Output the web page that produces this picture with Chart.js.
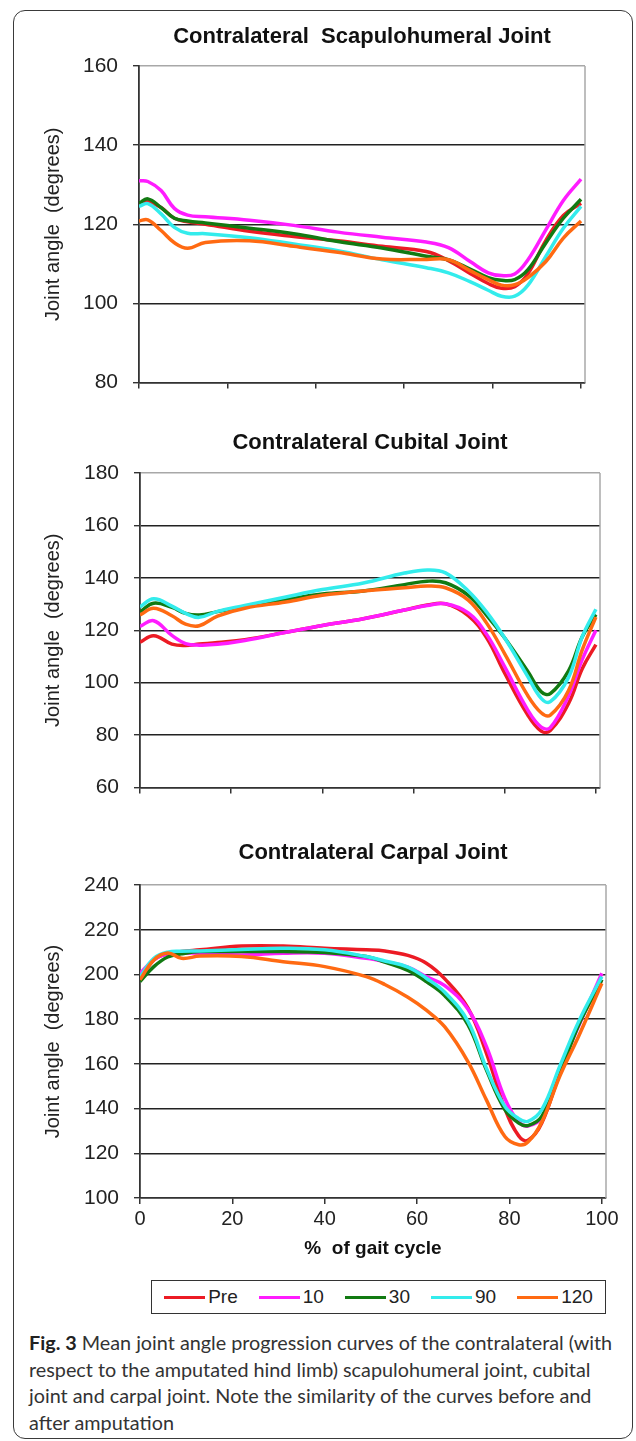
<!DOCTYPE html>
<html>
<head>
<meta charset="utf-8">
<script src="https://cdn.jsdelivr.net/npm/chart.js"></script>
<style>
  html, body { margin: 0; padding: 0; background: #fff; }
  body { position: relative; width: 636px; height: 1441px; overflow: hidden; font-family: "Liberation Sans", Arial, sans-serif; }
  .frame { position: absolute; left: 13px; top: 10px; width: 618px; height: 1427px; border: 1.5px solid #3a3a3a; border-radius: 12px; }
  canvas { position: absolute; left: 0; }
  #legend { position: absolute; left: 151px; top: 1280px; width: 453px; height: 32px; border: 1.5px solid #333;
            display: flex; align-items: center; justify-content: center; gap: 21px; font-size: 19px; color: #222; }
  #legend .item { display: flex; align-items: center; }
  #legend .swatch { display: inline-block; width: 41px; height: 3px; margin-right: 3px; }
  #caption { position: absolute; left: 29px; top: 1329px; width: 600px; font-family: Lato, "Open Sans", sans-serif;
             font-size: 19.8px; line-height: 26.7px; color: #333; white-space: nowrap; }
  #caption b { font-weight: 700; color: #222; }
</style>
</head>
<body>
<div class="frame"></div>
<canvas id="scap" width="636" height="400" style="top:10px"></canvas>
<canvas id="cub" width="636" height="400" style="top:415px"></canvas>
<canvas id="carp" width="636" height="450" style="top:820px"></canvas>
<div id="legend"></div>
<div id="caption"><b>Fig. 3</b> Mean joint angle progression curves of the contralateral (with<br>respect to the amputated hind limb) scapulohumeral joint, cubital<br>joint and carpal joint. Note the similarity of the curves before and<br>after amputation</div>

<script>
// series shared by the three panels
const seriesNames = ['Pre', '10', '30', '90', '120'];
const seriesColors = ['#ec1b24', '#ff1cff', '#127a12', '#33ecec', '#ff6a12'];

// Contralateral Scapulohumeral Joint (% of gait cycle -> degrees)
const scapX   = [0, 2, 5, 8, 11, 15, 25, 35, 45, 55, 65, 70, 75, 79, 82, 85, 88, 92, 96, 100];
const scapPre = [124.9, 125.7, 124.2, 121.5, 120.6, 120.0, 118.2, 116.9, 115.8, 114.4, 113.1, 110.8, 107.5, 105.0, 103.8, 104.2, 107.5, 115.8, 122.2, 125.3];
const scap10  = [131.0, 130.8, 128.5, 124.0, 122.3, 121.9, 121.0, 119.7, 118.0, 116.7, 115.5, 114.1, 110.5, 107.7, 107.0, 107.4, 111.0, 118.5, 126.0, 131.4];
const scap30  = [125.3, 126.4, 124.2, 121.5, 120.8, 120.3, 119.0, 117.6, 115.6, 114.0, 111.9, 111.0, 108.6, 106.5, 105.8, 106.0, 108.5, 115.2, 121.5, 126.3];
const scap90  = [124.5, 125.2, 122.6, 119.2, 117.7, 117.6, 116.6, 115.0, 113.3, 111.0, 109.0, 107.7, 105.4, 103.3, 101.8, 101.8, 104.6, 111.8, 119.0, 124.5];
const scap120 = [120.8, 121.1, 118.4, 115.3, 113.9, 115.4, 115.8, 114.4, 112.9, 111.2, 111.1, 111.0, 108.2, 106.0, 104.6, 104.7, 106.5, 110.5, 116.5, 120.8];
const scapTicks = [80, 160, 20];

// Contralateral Cubital Joint
const cubX   = [0, 3, 7, 10, 13, 17, 23, 32, 40, 49, 58, 63, 67, 72, 76, 80, 85, 88, 90, 94, 97, 100];
const cubPre = [115.4, 117.9, 114.7, 114.2, 114.7, 115.3, 116.4, 119.2, 121.8, 124.4, 127.7, 129.6, 130.1, 125.6, 117.2, 103.6, 87.8, 81.5, 81.7, 92.0, 105.3, 114.5];
const cub10  = [121.5, 123.6, 118.0, 114.9, 114.3, 114.6, 116.1, 119.2, 121.8, 124.4, 127.7, 129.4, 130.1, 126.6, 118.5, 106.0, 89.7, 83.0, 82.8, 95.0, 108.8, 120.0];
const cub30  = [127.0, 130.3, 128.7, 126.4, 125.8, 127.1, 129.0, 131.7, 133.8, 135.0, 137.4, 138.7, 138.1, 133.3, 125.8, 117.0, 104.4, 96.5, 95.8, 104.5, 117.5, 126.0];
const cub90  = [128.9, 132.0, 129.2, 126.4, 124.9, 127.2, 129.4, 132.7, 135.5, 138.0, 141.8, 143.0, 141.9, 135.0, 127.0, 117.0, 102.5, 94.0, 92.7, 102.0, 117.5, 128.0];
const cub120 = [125.8, 128.4, 125.5, 122.3, 121.7, 125.4, 128.4, 130.8, 133.3, 135.0, 136.2, 136.9, 136.2, 131.5, 122.8, 111.0, 95.2, 88.5, 87.6, 97.0, 112.5, 125.0];
const cubTicks = [60, 180, 20];

// Contralateral Carpal Joint
const carpX   = [0, 3, 6, 9, 13, 22, 31, 40, 49, 53, 58, 62, 66, 71, 75, 79, 82, 84, 87, 91, 95, 100];
const carpPre = [197.6, 206.5, 209.3, 210.3, 211.0, 212.7, 212.7, 211.7, 211.0, 210.5, 208.5, 205.0, 198.0, 185.0, 164.8, 140.0, 127.8, 125.8, 133.5, 157.0, 178.0, 197.6];
const carp10  = [200.5, 206.5, 209.3, 209.5, 209.5, 208.7, 209.5, 209.5, 207.2, 205.7, 203.3, 199.0, 195.0, 184.5, 167.8, 144.5, 134.0, 132.2, 136.0, 158.0, 177.0, 200.5];
const carp30  = [196.8, 203.5, 207.8, 209.2, 210.2, 210.2, 210.2, 209.8, 208.0, 205.5, 201.8, 196.8, 190.5, 177.5, 157.3, 139.5, 133.5, 132.4, 136.5, 156.0, 177.5, 197.6];
const carp90  = [199.0, 207.2, 210.0, 210.4, 210.5, 211.2, 211.7, 211.0, 208.0, 206.0, 203.3, 198.3, 192.0, 179.0, 158.1, 141.0, 135.5, 134.3, 139.5, 159.5, 179.0, 199.0];
const carp120 = [197.6, 206.5, 209.6, 207.2, 208.2, 208.0, 205.7, 203.5, 199.0, 195.5, 189.8, 184.0, 176.5, 161.0, 143.9, 127.5, 123.8, 125.0, 134.0, 155.0, 172.5, 196.0];
const carpTicks = [100, 240, 20];

const gaitTicks = [0, 100, 20];

// light grey frame on the right side of each plot area (Excel style)
const plotFrame = {
  id: 'plotFrame',
  beforeDatasetsDraw(chart) {
    const { ctx, chartArea: a } = chart;
    ctx.save();
    ctx.strokeStyle = '#a8a8a8';
    ctx.lineWidth = 1.5;
    ctx.beginPath();
    ctx.moveTo(a.right, a.top);
    ctx.lineTo(a.right, a.bottom);
    ctx.stroke();
    ctx.restore();
  }
};

function buildDatasets(xs, seriesList) {
  return seriesList.map((vals, i) => ({
    label: seriesNames[i],
    data: vals.map((v, k) => ({ x: xs[k], y: v })),
    borderColor: seriesColors[i],
    backgroundColor: seriesColors[i],
    borderWidth: 3.5,
    pointRadius: 0,
    tension: 0.4,
    fill: false,
    order: seriesNames.length - i
  }));
}

function makePanel(id, cfg) {
  const ctx = document.getElementById(id).getContext('2d');
  return new Chart(ctx, {
    type: 'line',
    data: { datasets: buildDatasets(cfg.xs, cfg.series) },
    plugins: [plotFrame],
    options: {
      responsive: false,
      animation: false,
      devicePixelRatio: 1,
      layout: { padding: { left: 30, right: cfg.padRight, top: 0, bottom: 0 } },
      plugins: {
        legend: { display: false },
        tooltip: { enabled: false },
        title: {
          display: true,
          text: cfg.title,
          fullSize: false,
          color: '#111',
          font: { family: 'Liberation Sans, Arial, sans-serif', size: 22, weight: 'bold' },
          padding: { top: cfg.titleTop, bottom: cfg.titleBottom }
        }
      },
      scales: {
        x: {
          type: 'linear',
          min: gaitTicks[0],
          max: 100.9,
          afterFit: s => { s.height = cfg.xHeight; },
          ticks: {
            display: cfg.showX,
            stepSize: gaitTicks[2],
            includeBounds: false,
            color: '#222',
            padding: 3,
            maxRotation: 0,
            font: { family: 'Liberation Sans, Arial, sans-serif', size: 20 }
          },
          grid: { drawOnChartArea: false, drawTicks: true, tickLength: 6, color: '#333', lineWidth: 1.5 },
          border: { display: true, color: '#333', width: 1.5 },
          title: {
            display: cfg.showX,
            text: '%  of gait cycle',
            color: '#111',
            font: { family: 'Liberation Sans, Arial, sans-serif', size: 19, weight: 'bold' },
            padding: { top: 0, bottom: 10 }
          }
        },
        y: {
          min: cfg.yTicks[0],
          max: cfg.yTicks[1],
          afterFit: s => { s.width = cfg.axisLeft - 30; },
          ticks: {
            stepSize: cfg.yTicks[2],
            color: '#222',
            padding: 15,
            font: { family: 'Liberation Sans, Arial, sans-serif', size: 21 }
          },
          grid: {
            tickLength: 6,
            tickColor: '#333',
            lineWidth: 1.4,
            color: c => (c.tick && c.tick.value === cfg.yTicks[1]) ? '#a8a8a8' : '#222'
          },
          border: { display: true, color: '#333', width: 1.8 },
          title: {
            display: true,
            text: 'Joint angle  (degrees)',
            color: '#222',
            font: { family: 'Liberation Sans, Arial, sans-serif', size: 20 },
            padding: { top: 11, bottom: 0 }
          }
        }
      }
    }
  });
}

makePanel('scap', {
  title: 'Contralateral  Scapulohumeral Joint',
  xs: scapX, series: [scapPre, scap10, scap30, scap90, scap120],
  yTicks: scapTicks, axisLeft: 139, padRight: 51,
  titleTop: 14, titleBottom: 15.6, xHeight: 16, showX: false
});

makePanel('cub', {
  title: 'Contralateral Cubital Joint',
  xs: cubX, series: [cubPre, cub10, cub30, cub90, cub120],
  yTicks: cubTicks, axisLeft: 140, padRight: 36,
  titleTop: 14.8, titleBottom: 16.8, xHeight: 16, showX: false
});

makePanel('carp', {
  title: 'Contralateral Carpal Joint',
  xs: carpX, series: [carpPre, carp10, carp30, carp90, carp120],
  yTicks: carpTicks, axisLeft: 140, padRight: 30,
  titleTop: 19.8, titleBottom: 18.8, xHeight: 72, showX: true
});

// shared legend for the three panels
const legendEl = document.getElementById('legend');
seriesNames.forEach((name, i) => {
  const item = document.createElement('span');
  item.className = 'item';
  item.innerHTML = '<span class="swatch" style="background:' + seriesColors[i] + '"></span>' + name;
  legendEl.appendChild(item);
});
</script>
</body>
</html>
